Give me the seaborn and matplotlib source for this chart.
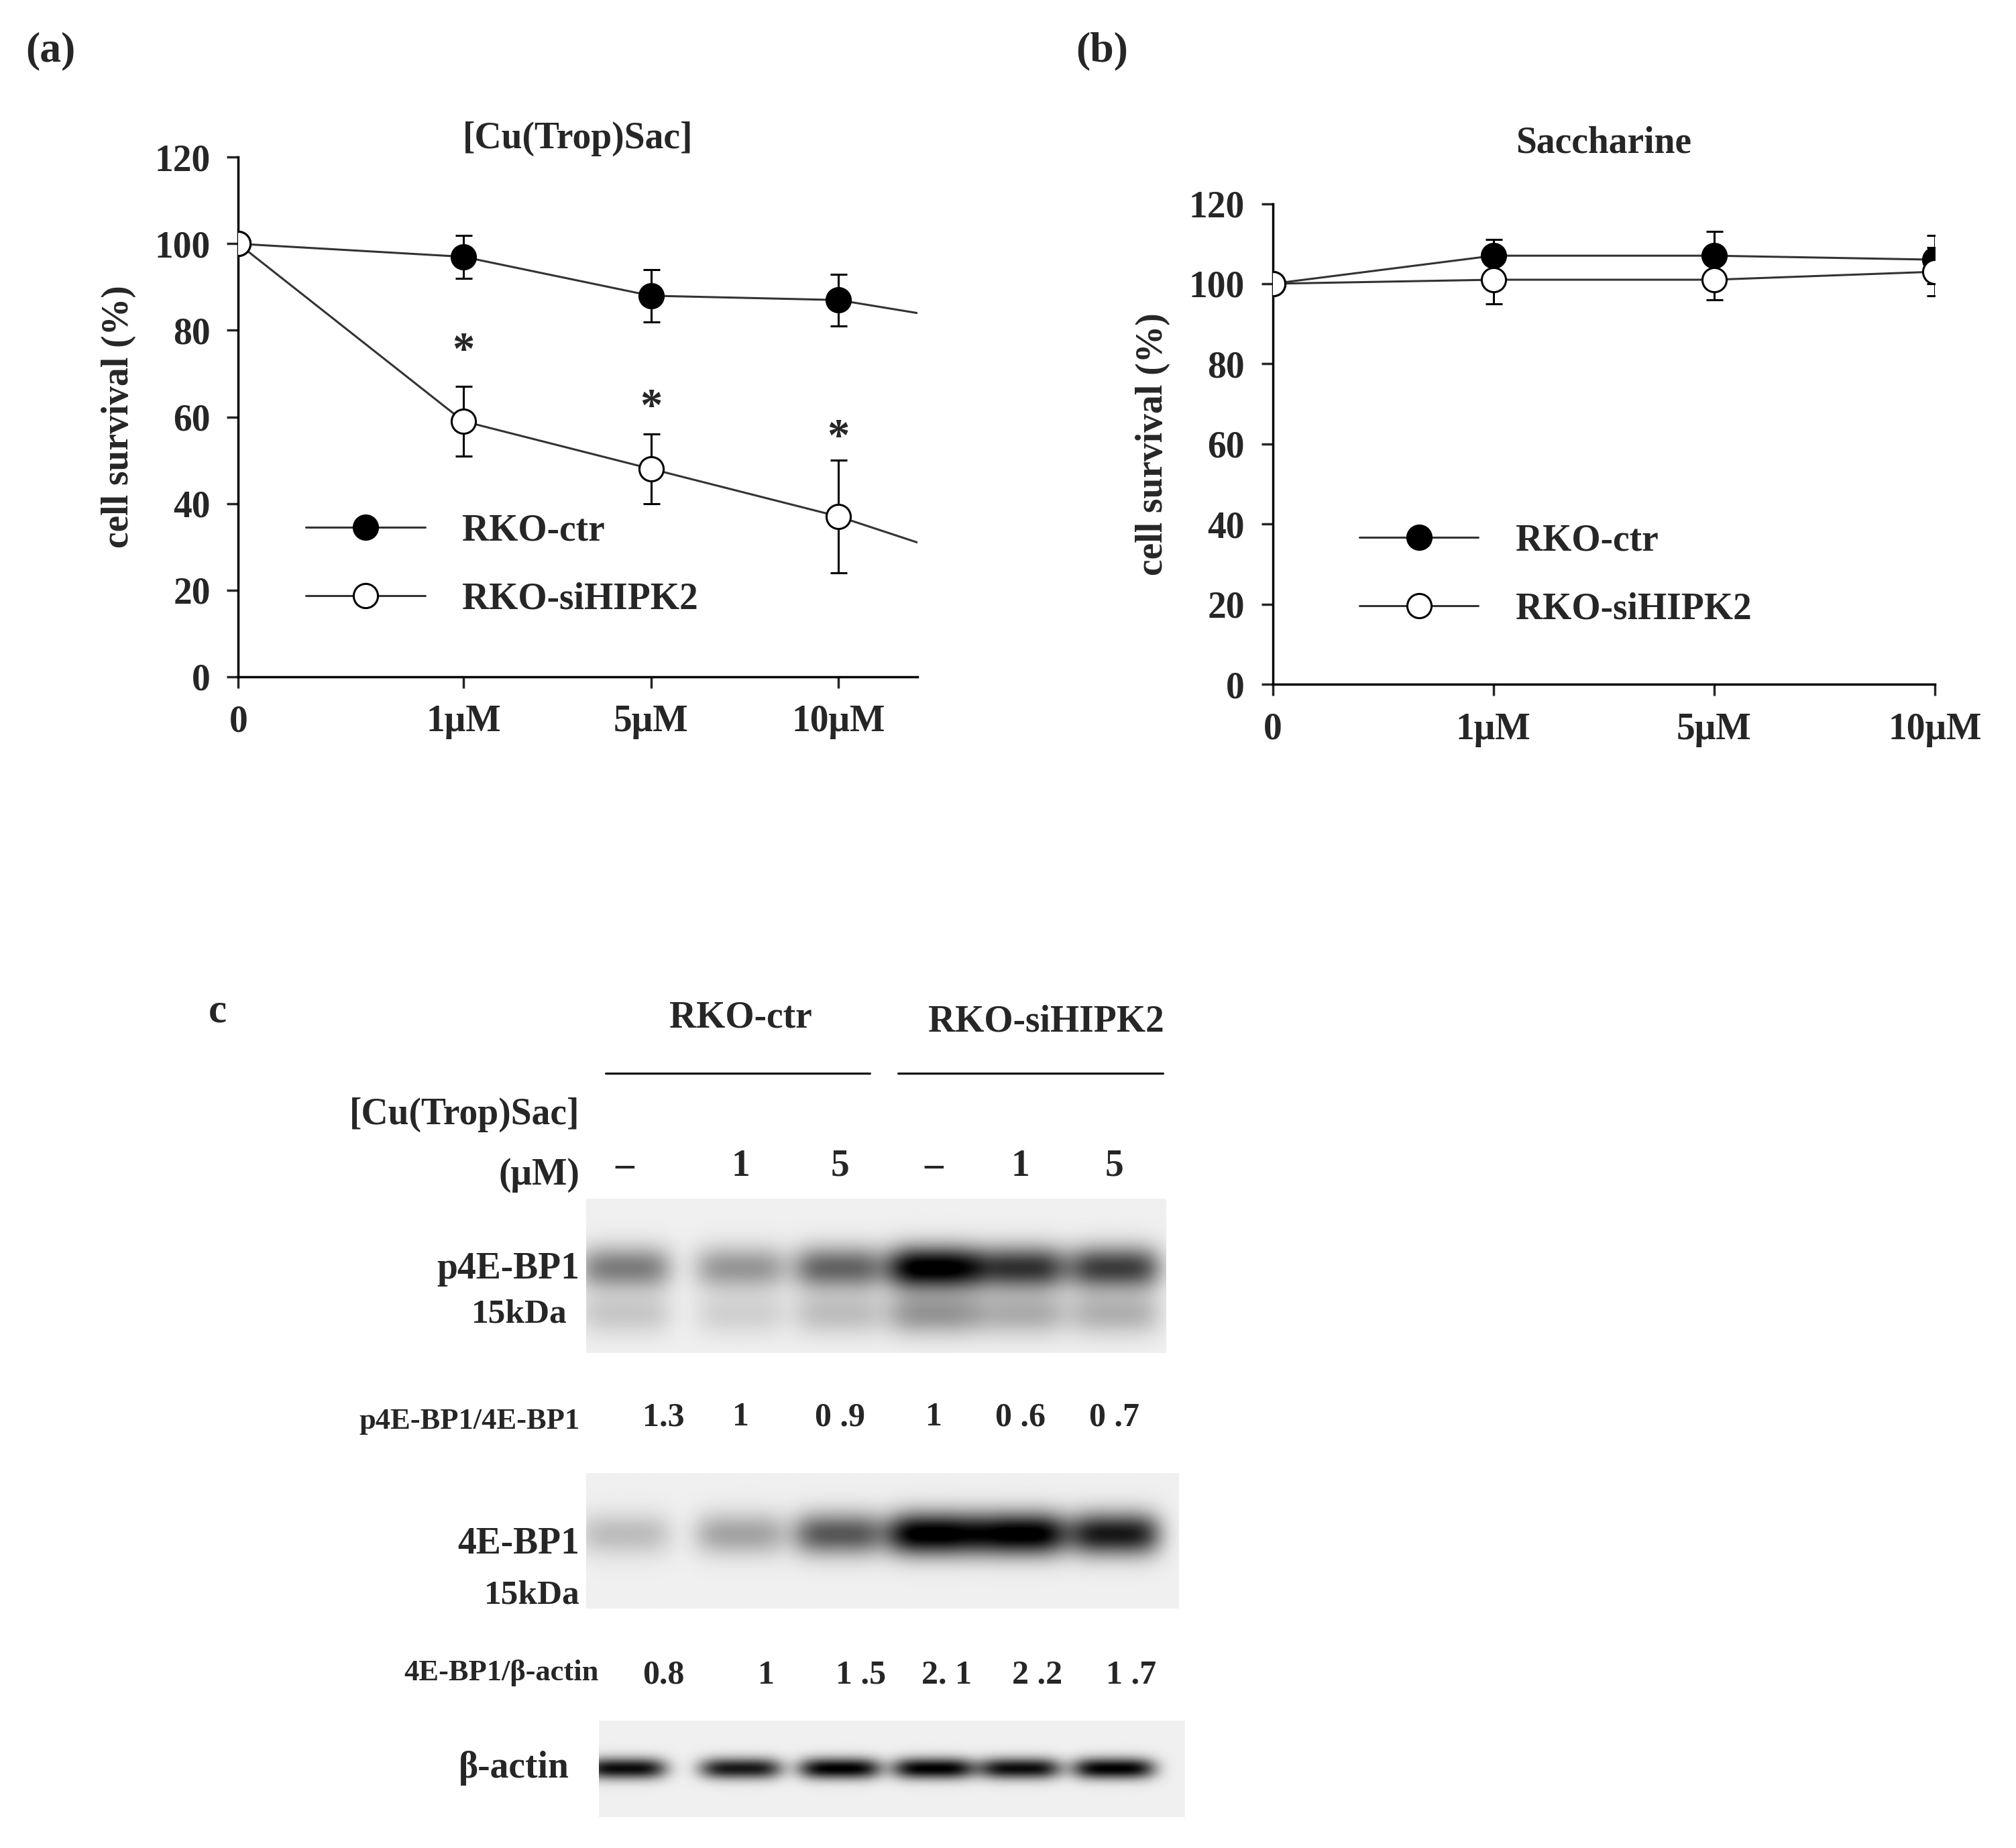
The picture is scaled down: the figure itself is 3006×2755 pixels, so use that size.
import numpy as np
import matplotlib
matplotlib.use("Agg")
import matplotlib.pyplot as plt
import seaborn as sns
import pandas as pd

sns.set_theme(style="white")
plt.rcParams['font.family'] = ['Liberation Serif', 'DejaVu Serif']
plt.rcParams['font.weight'] = 'bold'

# ---------------- data ----------------
doses = ["0", "1μM", "5μM", "10μM"]
xpos_a = [0, 1.2, 2.2, 3.2]
a_ctr = [100, 97, 88, 87]
a_ctr_err = [0, 5, 6, 6]
a_si = [100, 59, 48, 37]
a_si_err = [0, 8, 8, 13]
a_edge_ctr = 84   # line continuation at right axis edge
a_edge_si = 31
star_y = [75, 62, 55]

xpos_b = [0, 1, 2, 3]
b_ctr = [100, 107, 107, 106]
b_ctr_err = [0, 4, 6, 6]
b_si = [100, 101, 101, 103]
b_si_err = [0, 6, 5, 6]

lanes = ["–", "1", "5", "–", "1", "5"]
p4e_ratio = ["1.3", "1", "0 .9", "1", "0 .6", "0 .7"]
e4_ratio = ["0.8", "1", "1 .5", "2. 1", "2 .2", "1 .7"]
p4e_int = [0.45, 0.35, 0.55, 1.0, 0.75, 0.7]
e4_int = [0.2, 0.3, 0.6, 1.0, 1.0, 0.85]
actin_int = [0.9, 0.85, 0.95, 0.95, 0.9, 0.95]

W, H = 1565, 1434
fig = plt.figure(figsize=(30.06, 27.55), dpi=100)

def rect(x0, y0, x1, y1):
    return [x0 / W, 1 - y1 / H, (x1 - x0) / W, (y1 - y0) / H]

def fx(x): return x / W
def fy(y): return 1 - y / H

FS = 40

def style(ax, xpos, xmax):
    ax.set_ylim(0, 120)
    ax.set_yticks(range(0, 121, 20))
    ax.set_xlim(0, xmax)
    ax.set_xticks(xpos)
    ax.set_xticklabels(doses)
    for s in ["top", "right"]:
        ax.spines[s].set_visible(False)
    for s in ["left", "bottom"]:
        ax.spines[s].set_color("black")
        ax.spines[s].set_linewidth(2.5)
    ax.tick_params(axis="both", labelsize=FS, direction="out", length=12, width=2.5,
                   left=True, bottom=True, pad=18)
    for t in ax.get_xticklabels() + ax.get_yticklabels():
        t.set_fontweight("bold")
    ax.set_ylabel("cell survival (%)", fontsize=FS, fontweight="bold", labelpad=20)

def series(ax, x, y, err, filled, label):
    df = pd.DataFrame({"x": x, "y": y})
    sns.lineplot(data=df, x="x", y="y", ax=ax, color="#333333", lw=2.2,
                 marker="o", markersize=26, markerfacecolor="black" if filled else "white",
                 markeredgecolor="black", markeredgewidth=2.2, label=label, zorder=3)
    ax.errorbar(x, y, yerr=err, fmt="none", ecolor="black", elinewidth=2.2, capsize=9,
                capthick=2.2, zorder=2)

# ---------------- panel a ----------------
axa = fig.add_axes(rect(185, 122, 712, 525))
xmax_a = 3.62
axa.plot([xpos_a[-1], xmax_a], [a_ctr[-1], a_edge_ctr], color="#333333", lw=2.2)
axa.plot([xpos_a[-1], xmax_a], [a_si[-1], a_edge_si], color="#333333", lw=2.2)
series(axa, xpos_a, a_ctr, a_ctr_err, True, "RKO-ctr")
series(axa, xpos_a, a_si, a_si_err, False, "RKO-siHIPK2")
style(axa, xpos_a, xmax_a)
axa.set_xlabel("")
for x, y in zip(xpos_a[1:], star_y):
    axa.text(x, y, "*", fontsize=48, ha="center", va="center", fontweight="bold")
axa.set_title("[Cu(Trop)Sac]", fontsize=FS, fontweight="bold", pad=10)
leg = axa.legend(loc="lower left", bbox_to_anchor=(0.05, 0.05), frameon=False, fontsize=FS,
                 handlelength=3.2, labelspacing=0.9, handletextpad=1.0)
for t in leg.get_texts():
    t.set_fontweight("bold")
fig.text(fx(20), fy(40), "(a)", fontsize=46, fontweight="bold", va="center")

# ---------------- panel b ----------------
axb = fig.add_axes(rect(988, 158, 1502, 531))
series(axb, xpos_b, b_ctr, b_ctr_err, True, "RKO-ctr")
series(axb, xpos_b, b_si, b_si_err, False, "RKO-siHIPK2")
style(axb, xpos_b, 3.0)
axb.set_xlabel("")
axb.set_title("Saccharine", fontsize=FS, fontweight="bold", pad=55)
leg = axb.legend(loc="lower left", bbox_to_anchor=(0.08, 0.05), frameon=False, fontsize=FS,
                 handlelength=3.2, labelspacing=0.9, handletextpad=1.0)
for t in leg.get_texts():
    t.set_fontweight("bold")
fig.text(fx(835), fy(40), "(b)", fontsize=46, fontweight="bold", va="center")

# ---------------- panel c ----------------
fig.text(fx(162), fy(785), "c", fontsize=44, fontweight="bold", va="center")
lane_x = [485, 575, 652, 725, 792, 865]
fig.text(fx(575), fy(790), "RKO-ctr", fontsize=FS, fontweight="bold", ha="center", va="center")
fig.text(fx(812), fy(793), "RKO-siHIPK2", fontsize=FS, fontweight="bold", ha="center", va="center")
fig.add_artist(plt.Line2D([fx(470), fx(675)], [fy(833), fy(833)], color="black", lw=2.2))
fig.add_artist(plt.Line2D([fx(697), fx(903)], [fy(833), fy(833)], color="black", lw=2.2))
fig.text(fx(450), fy(865), "[Cu(Trop)Sac]", fontsize=FS, fontweight="bold", ha="right", va="center")
fig.text(fx(450), fy(912), "(μM)", fontsize=FS, fontweight="bold", ha="right", va="center")
for x, l in zip(lane_x, lanes):
    fig.text(fx(x), fy(905), l, fontsize=FS, fontweight="bold", ha="center", va="center")

def blot(x0, y0, x1, y1, ints, yc, sy, sx, extra=0.0):
    ax = fig.add_axes(rect(x0, y0, x1, y1))
    nx, ny = 460, 120
    X = np.linspace(x0, x1, nx)[None, :]
    Y = np.linspace(0, 1, ny)[:, None]
    img = np.full((ny, nx), 0.06)
    for lx, a in zip(lane_x, ints):
        img += a * np.exp(-((X - lx) / sx) ** 4) * np.exp(-((Y - yc) / sy) ** 2)
        if extra:
            img += extra * a * np.exp(-((X - lx) / sx) ** 4) * np.exp(-((Y - yc - 0.3) / sy) ** 2)
    ax.imshow(np.clip(img, 0, 1), cmap="gray_r", vmin=0, vmax=1, aspect="auto")
    ax.axis("off")
    return ax

blot(455, 930, 905, 1050, p4e_int, 0.45, 0.14, 36, extra=0.35)
fig.text(fx(450), fy(985), "p4E-BP1", fontsize=FS, fontweight="bold", ha="right", va="center")
fig.text(fx(440), fy(1020), "15kDa", fontsize=FS - 3, fontweight="bold", ha="right", va="center")
fig.text(fx(450), fy(1103), "p4E-BP1/4E-BP1", fontsize=FS - 8, fontweight="bold", ha="right", va="center")
for x, r in zip(lane_x, p4e_ratio):
    fig.text(fx(x + 30 if x == lane_x[0] else x), fy(1100), r, fontsize=FS - 4, fontweight="bold", ha="center", va="center")

blot(455, 1143, 915, 1248, e4_int, 0.45, 0.16, 36)
fig.text(fx(450), fy(1198), "4E-BP1", fontsize=FS, fontweight="bold", ha="right", va="center")
fig.text(fx(450), fy(1238), "15kDa", fontsize=FS - 3, fontweight="bold", ha="right", va="center")
fig.text(fx(465), fy(1298), "4E-BP1/β-actin", fontsize=FS - 8, fontweight="bold", ha="right", va="center")
for x, r in zip([515, 595, 668, 735, 805, 878], e4_ratio):
    fig.text(fx(x), fy(1300), r, fontsize=FS - 4, fontweight="bold", ha="center", va="center")

blot(465, 1335, 920, 1410, actin_int, 0.5, 0.11, 32)
fig.text(fx(442), fy(1372), "β-actin", fontsize=FS, fontweight="bold", ha="right", va="center")

fig.savefig("out.png", dpi=100, facecolor="white")
